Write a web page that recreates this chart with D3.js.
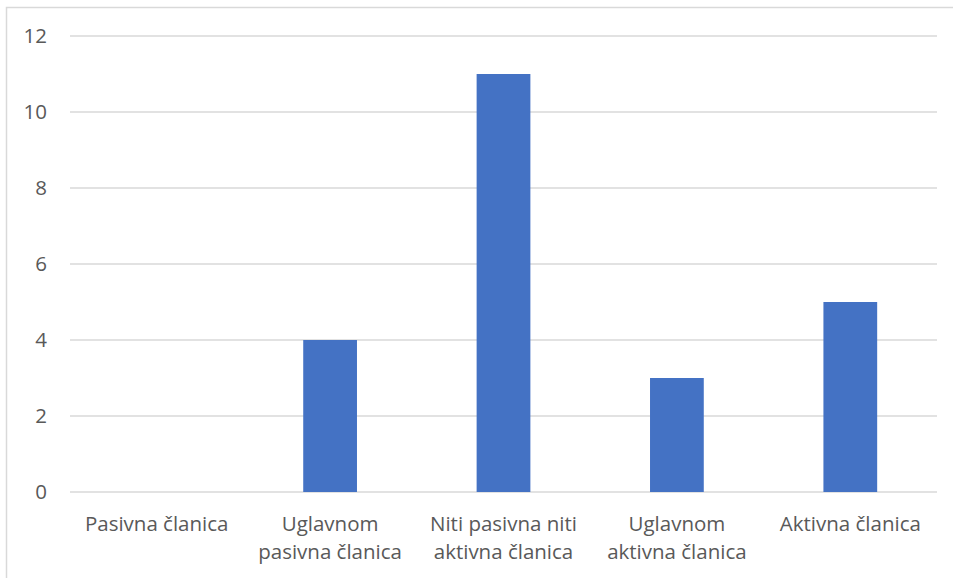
<!DOCTYPE html>
<html>
<head>
<meta charset="utf-8">
<script src="https://cdn.jsdelivr.net/npm/d3@7"></script>
<style>
  body { margin: 0; background: #fff; }
  svg text { font-family: "Open Sans", sans-serif; fill: #595959; }
</style>
</head>
<body>
<div id="chart"></div>
<script>
const categories = [
  ['Pasivna članica'],
  ['Uglavnom', 'pasivna članica'],
  ['Niti pasivna niti', 'aktivna članica'],
  ['Uglavnom', 'aktivna članica'],
  ['Aktivna članica']
];
const values = [0, 4, 11, 3, 5];
const yTicks = [0, 2, 4, 6, 8, 10, 12];

const W = 953, H = 578;
const margin = { top: 36, right: 16, bottom: 86, left: 70 };
const width = W - margin.left - margin.right,
  height = H - margin.top - margin.bottom;
const fontSize = '20.5px';

const svg = d3.select('#chart').append('svg')
  .attr('width', W)
  .attr('height', H);

// outer chart border
svg.append('rect')
  .attr('x', 6.5).attr('y', 7.5)
  .attr('width', W).attr('height', H)
  .attr('fill', 'none')
  .attr('stroke', '#d9d9d9')
  .attr('stroke-width', 1.5);

const g = svg.append('g')
  .attr('transform', 'translate(' + margin.left + ',' + margin.top + ')');

const labels = categories.map((c) => c.join(' '));

const x_scale = d3.scaleBand()
  .domain(labels)
  .range([0, width])
  .paddingInner(0.69)
  .paddingOuter(0.345);

const y_scale = d3.scaleLinear()
  .domain([0, 12])
  .range([height, 0]);

// gridlines
g.append('g')
  .attr('class', 'grid')
  .selectAll('line')
  .data(yTicks)
  .enter()
  .append('line')
  .attr('x1', 0)
  .attr('x2', width)
  .attr('y1', (d) => y_scale(d))
  .attr('y2', (d) => y_scale(d))
  .attr('stroke', '#d9d9d9')
  .attr('stroke-width', 1.5);

// y axis labels
const yAxis = g.append('g')
  .call(d3.axisLeft(y_scale).tickValues(yTicks).tickSize(0).tickPadding(23));
yAxis.select('.domain').remove();
yAxis.selectAll('text')
  .style('font-size', fontSize)
  .style('font-family', '"Open Sans", sans-serif')
  .attr('fill', '#595959');

// bars
g.append('g')
  .attr('class', 'bars')
  .selectAll('rect')
  .data(values)
  .enter()
  .append('rect')
  .attr('x', (d, i) => x_scale(labels[i]))
  .attr('y', (d) => y_scale(d))
  .attr('width', x_scale.bandwidth())
  .attr('height', (d) => height - y_scale(d))
  .attr('fill', '#4472c4');

// category labels (wrapped)
const cat = g.append('g')
  .attr('class', 'x-labels')
  .selectAll('text')
  .data(categories)
  .enter()
  .append('text')
  .attr('text-anchor', 'middle')
  .attr('x', (d, i) => x_scale(labels[i]) + x_scale.bandwidth() / 2)
  .attr('y', height + 39)
  .style('font-size', fontSize);

cat.selectAll('tspan')
  .data((d) => d)
  .enter()
  .append('tspan')
  .attr('x', function () { return d3.select(this.parentNode).attr('x'); })
  .attr('dy', (d, i) => i === 0 ? 0 : 28)
  .text((d) => d);
</script>
</body>
</html>
